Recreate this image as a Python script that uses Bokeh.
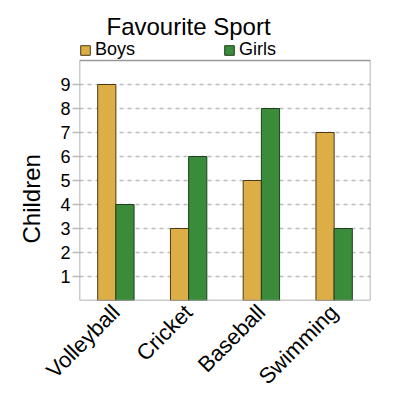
import math
from bokeh.plotting import figure
from bokeh.models import (ColumnDataSource, FactorRange, Range1d, Legend, LegendItem,
                          FixedTicker, BoxAnnotation, Title)
from bokeh.transform import dodge
from bokeh.embed import file_html
from bokeh.resources import INLINE

sports = ["Volleyball", "Cricket", "Baseball", "Swimming"]
boys = [9, 3, 5, 7]
girls = [4, 6, 8, 3]
y_ticks = [1, 2, 3, 4, 5, 6, 7, 8, 9]
y_max = 10

src = ColumnDataSource(dict(sports=sports, boys=boys, girls=girls))

p = figure(width=400, height=400, x_range=FactorRange(*sports, range_padding=0),
           y_range=Range1d(0, 10.875), output_backend="svg", toolbar_location=None,
           min_border_left=79, min_border_right=30, min_border_top=39, min_border_bottom=100,
           title="Favourite Sport")
p.title.align = "left"
p.title.offset = 27
p.title.standoff = 0
p.title.text_font = "Liberation Sans"
p.title.text_font_size = "24px"
p.title.text_font_style = "normal"
p.title.text_color = "black"

rb = p.vbar(x=dodge("sports", -0.125, range=p.x_range), top="boys", width=0.25, source=src,
            fill_color="#dcae45", line_color="#4a3a1a", line_width=1)
rg = p.vbar(x=dodge("sports", 0.125, range=p.x_range), top="girls", width=0.25, source=src,
            fill_color="#3a8c3a", line_color="#1f3f1f", line_width=1)

p.outline_line_color = None
p.add_layout(BoxAnnotation(bottom=0, top=y_max, fill_alpha=0, line_color="#999999",
                           line_alpha=1, line_width=1.5))
p.xgrid.grid_line_color = None
p.ygrid.ticker = FixedTicker(ticks=y_ticks)
p.ygrid.grid_line_color = "#bbbbbb"
p.ygrid.grid_line_dash = "4 4"
p.ygrid.grid_line_width = 1.5

p.yaxis.ticker = FixedTicker(ticks=y_ticks)
p.yaxis.axis_line_color = None
p.yaxis.major_tick_line_color = "#bbbbbb"
p.yaxis.major_tick_line_width = 1.5
p.yaxis.major_tick_out = 7
p.yaxis.major_tick_in = 0
p.yaxis.minor_tick_line_color = None
p.yaxis.major_label_standoff = 2
p.yaxis.major_label_text_font = "Liberation Sans"
p.yaxis.major_label_text_font_size = "18px"
p.yaxis.major_label_text_color = "black"
p.add_layout(Title(text="Children", align="left", offset=57, standoff=26,
                   text_font="Liberation Sans", text_font_size="24px",
                   text_font_style="normal", text_color="black"), "left")

p.xaxis.axis_line_color = None
p.xaxis.major_tick_line_color = None
p.xaxis.major_label_orientation = math.pi / 4
p.xaxis.major_label_standoff = 2
p.xaxis.major_label_text_font = "Liberation Sans"
p.xaxis.major_label_text_font_size = "22px"
p.xaxis.major_label_text_color = "black"

legend = Legend(items=[LegendItem(label="Boys", renderers=[rb]), LegendItem(label="Girls", renderers=[rg])],
                orientation="horizontal", location="top_left", spacing=88,
                label_text_font="Liberation Sans", label_text_font_size="18px",
                label_text_color="black",
                glyph_width=12, glyph_height=12, label_standoff=4,
                padding=0, margin=0, border_line_color=None, background_fill_alpha=0)
p.add_layout(legend, "center")

open("out.html", "w").write(file_html(p, INLINE))
